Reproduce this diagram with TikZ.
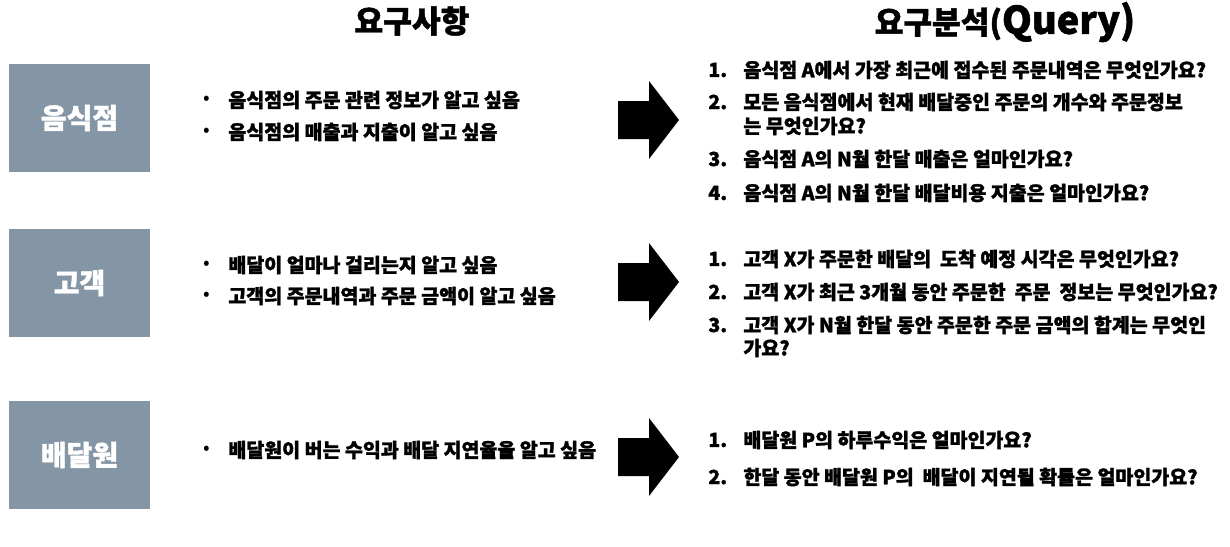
\documentclass[tikz,border=0pt]{standalone}
\usepackage{fontspec}
\setmainfont{Noto Sans CJK KR}[BoldFeatures={FakeBold=1.4}]
\definecolor{boxgray}{RGB}{132,150,166}

\newcommand{\arrdim}{
\def\xa{618}   % shaft start
\def\xb{649}   % head base
\def\xc{679}   % tip
\def\hs{19}    % half shaft
\def\hh{39}    % half head
}
\newcommand{\sz}{\fontsize{9.75}{12}\selectfont}

\tikzset{
  title/.style={font=\bfseries\fontsize{15.6}{18}\selectfont, inner sep=0pt},
  rolebox/.style={fill=boxgray, text=white, minimum width=70.5pt, minimum height=54pt,
    inner sep=0pt, font=\bfseries\fontsize{14}{16}\selectfont},
  dot/.style={inner sep=0pt, font=\sz},
  need/.style={anchor=west, inner sep=0pt, font=\bfseries\sz},
  qnum/.style={anchor=west, inner sep=0pt, font=\bfseries\sz},
  query/.style={anchor=west, inner sep=0pt, font=\bfseries\sz},
}

\begin{document}
\begin{tikzpicture}[x=0.5pt,y=-0.5pt]
  \arrdim
  \useasboundingbox (0,0) rectangle (1230,546);
  % headings
  \node[title] (tneed) at (412,21) {요구사항};
  \node[title] (tquery) at (1005,22) {요구분석(\fontsize{19}{18}\selectfont Query)};
  % roles
  \node[rolebox] (rest) at (79.5,118) {음식점};
  \node[rolebox] (cust) at (79.5,283) {고객};
  \node[rolebox] (rider) at (79.5,455) {배달원};
  % needs
  \foreach \yy/\txt [count=\i] in {100/음식점의 주문 관련 정보가 알고 싶음,
      132/음식점의 매출과 지출이 알고 싶음,
      265/배달이 얼마나 걸리는지 알고 싶음,
      296/고객의 주문내역과 주문 금액이 알고 싶음,
      450/배달원이 버는 수익과 배달 지연율을 알고 싶음}
  {
    \node[dot] (b\i) at (207,\yy) {•};
    \node[need] (n\i) at (228,\yy) {\txt};
  }
  % arrows
  \foreach \yc in {120,282,457}
    \fill[black] (\xa,{\yc-\hs}) -- (\xb,{\yc-\hs}) -- (\xb,{\yc-\hh}) -- (\xc,\yc)
      -- (\xb,{\yc+\hh}) -- (\xb,{\yc+\hs}) -- (\xa,{\yc+\hs}) -- cycle;
  % queries
  \foreach \yy/\nr/\txt [count=\i] in {70/1./음식점 A에서 가장 최근에 접수된 주문내역은 무엇인가요?,
      102/2./모든 음식점에서 현재 배달중인 주문의 개수와 주문정보,
      159/3./음식점 A의 N월 한달 매출은 얼마인가요?,
      193/4./음식점 A의 N월 한달 배달비용 지출은 얼마인가요?,
      259/1./고객 X가 주문한 배달의\ \ 도착 예정 시각은 무엇인가요?,
      292/2./고객 X가 최근 3개월 동안 주문한\ \ 주문\ \ 정보는 무엇인가요?,
      325/3./고객 X가 N월 한달 동안 주문한 주문 금액의 합계는 무엇인,
      440/1./배달원 P의 하루수익은 얼마인가요?,
      477/2./한달 동안 배달원 P의\ \ 배달이 지연될 확률은 얼마인가요?}
  {
    \node[qnum] (k\i) at (708,\yy) {\nr};
    \node[query] (q\i) at (743,\yy) {\txt};
  }
  \node[query] (q2b) at (743,126) {는 무엇인가요?};
  \node[query] (q7b) at (743,348) {가요?};
\end{tikzpicture}
\end{document}
